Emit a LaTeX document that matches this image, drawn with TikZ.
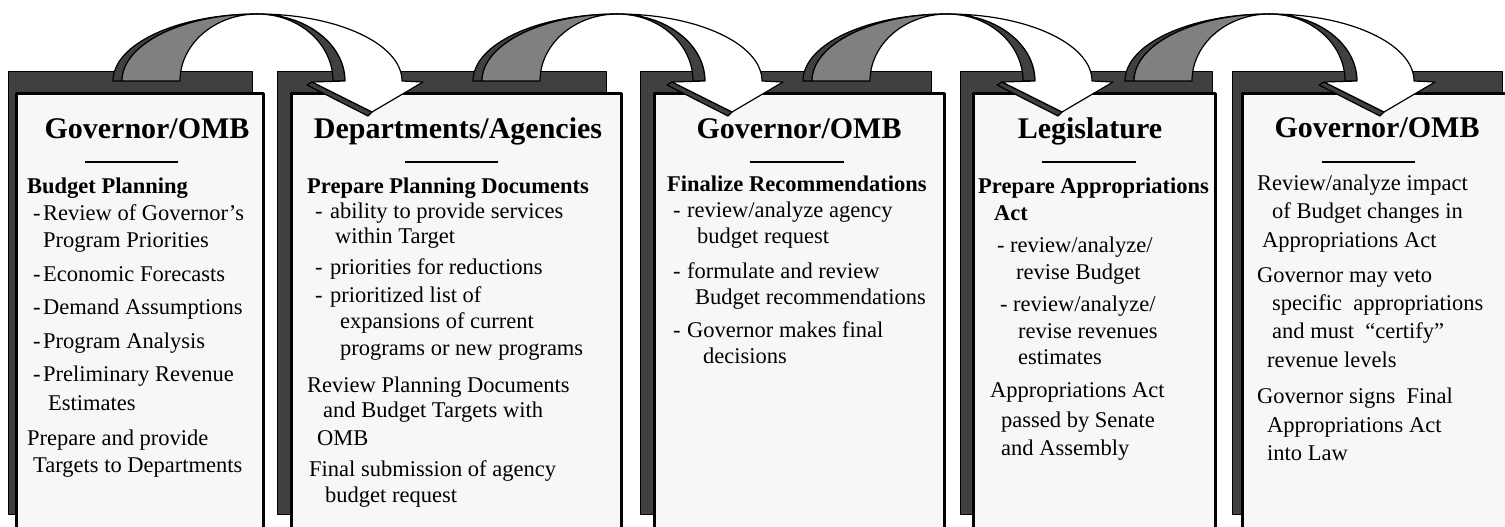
\documentclass[tikz,border=0pt]{standalone}
\usepackage{fontspec}
\setmainfont{Liberation Serif}
\definecolor{darkface}{HTML}{404040}
\definecolor{midface}{HTML}{808080}
\definecolor{paper}{HTML}{F7F7F7}
\newcommand\dsh[1][10pt]{\makebox[#1][l]{-}}
\newcommand\firstln{\rule{0pt}{20pt}}

\begin{document}
\begin{tikzpicture}[x=1pt,y=-1pt,line join=round,
  backbox/.style={draw=black,line width=1pt,fill=darkface},
  frontbox/.style={draw=black,line width=3pt,fill=paper},
  darkpart/.style={draw=black,line width=1.2pt,fill=darkface},
  greypart/.style={draw=black,line width=1.2pt,fill=midface},
  whitepart/.style={draw=black,line width=1.2pt,fill=white},
  title/.style={anchor=base,inner sep=0pt,font=\fontsize{30}{30}\selectfont\bfseries},
  subhead/.style={anchor=north west,inner sep=0pt,align=left,font=\fontsize{22.5}{27}\selectfont\bfseries},
  bodytext/.style={anchor=north west,inner sep=0pt,align=left,font=\fontsize{22.5}{27}\selectfont}]
\useasboundingbox (0,0) rectangle (1505,527);

% panels: back box and front sheet
\foreach \dl/\dr/\fl/\fr in {8/252/15/265,277/606/290/623,640/931/653/946,960/1212/972/1217,1232/1502/1241/1515}{
  \draw[backbox] (\dl,72) rectangle (\dr,514);
  \draw[frontbox] (\fl+1.5,93.5) rectangle (\fr-1.5,545);
}

% curved arrows between panels
\foreach \xa in {113,473,803,1125}{
\begin{scope}[shift={(\xa,0)}]
  \draw[darkpart] (0,81) arc[start angle=180,end angle=90,x radius=144.5pt,y radius=67pt]
    arc[start angle=90,end angle=180,x radius=135.5pt,y radius=67pt] -- cycle;
  \draw[greypart] (9,81) arc[start angle=180,end angle=90,x radius=135.5pt,y radius=67pt]
    arc[start angle=90,end angle=180,x radius=77.5pt,y radius=67pt] -- cycle;
  \draw[darkpart] (144.5,14) arc[start angle=90,end angle=0,x radius=87.5pt,y radius=67pt]
    -- (220,81) arc[start angle=0,end angle=90,x radius=75.5pt,y radius=67pt] -- cycle;
  \draw[darkpart] (199,82) -- (194,85) -- (255,116) -- (259,112) -- cycle;
  \draw[whitepart] (144.5,14) arc[start angle=90,end angle=0,x radius=144.5pt,y radius=67pt]
    -- (310,82) -- (259,112) -- (199,82) -- (232,81)
    arc[start angle=0,end angle=90,x radius=87.5pt,y radius=67pt] -- cycle;
\end{scope}
}

% titles and rules
\node[title] (t1) at (147,138) {Governor/OMB};
\node[title] (t2) at (458,138) {Departments/Agencies};
\node[title] (t3) at (799,138) {Governor/OMB};
\node[title] (t4) at (1090,138) {Legislature};
\node[title] (t5) at (1377,137) {Governor/OMB};
\draw[line width=2pt] (85,162) -- (178,162) (405,162) -- (498,162) (750,162) -- (844,162)
  (1042,162) -- (1136,162) (1322,162) -- (1415,162);

% sub headings
\node[subhead] (s1) at (27,173) {\firstln Budget Planning};
\node[subhead] (s2) at (307,173) {\firstln Prepare Planning Documents};
\node[subhead] (s3) at (667,171) {\firstln Finalize Recommendations};
\node[subhead] (s4) at (978,173) {\firstln Prepare Appropriations\\ \hspace*{16pt}Act};

% panel texts
\node[bodytext] (b1) at (27,200) {\firstln\hspace*{6pt}\dsh Review of Governor’s\\
  \hspace*{16pt}Program Priorities\\[7pt]
  \hspace*{6pt}\dsh Economic Forecasts\\[6pt]
  \hspace*{6pt}\dsh Demand Assumptions\\[7pt]
  \hspace*{6pt}\dsh Program Analysis\\[6pt]
  \hspace*{6pt}\dsh Preliminary Revenue\\[2pt]
  \hspace*{21pt}Estimates\\[8pt]
  Prepare and provide\\
  \hspace*{6pt}Targets to Departments};
\node[bodytext] (b2) at (307,198) {\firstln\hspace*{8pt}\dsh[15pt]ability to provide services\\[-2pt]
  \hspace*{28pt}within Target\\[4pt]
  \hspace*{8pt}\dsh[15pt]priorities for reductions\\[1pt]
  \hspace*{8pt}\dsh[15pt]prioritized list of\\[-1pt]
  \hspace*{33pt}expansions of current\\
  \hspace*{33pt}programs or new programs\\[10pt]
  Review Planning Documents\\[-2pt]
  \hspace*{16pt}and Budget Targets with\\[1pt]
  \hspace*{10pt}OMB\\[4pt]
  \hspace*{2pt}Final submission of agency\\[-1pt]
  \hspace*{18pt}budget request};
\node[bodytext] (b3) at (673,197) {\firstln\dsh[14pt]review/analyze agency\\[-1pt]
  \hspace*{24pt}budget request\\[8pt]
  \dsh[14pt]formulate and review\\[-1pt]
  \hspace*{22pt}Budget recommendations\\[6pt]
  \dsh[14pt]Governor makes final\\[-1pt]
  \hspace*{30pt}decisions};
\node[bodytext] (b4) at (990,232) {\firstln\hspace*{7pt}\dsh[13pt]review/analyze/\\
  \hspace*{26pt}revise Budget\\[5pt]
  \hspace*{10pt}\dsh[13pt]review/analyze/\\
  \hspace*{28pt}revise revenues\\[-1pt]
  \hspace*{28pt}estimates\\[6pt]
  Appropriations Act\\[3pt]
  \hspace*{11pt}passed by Senate\\[1pt]
  \hspace*{11pt}and Assembly};
\node[bodytext] (b5) at (1257,170) {\firstln Review/analyze impact\\[1pt]
  \hspace*{15pt}of Budget changes in\\[2pt]
  \hspace*{5pt}Appropriations Act\\[8pt]
  Governor may veto\\[1pt]
  \hspace*{15pt}specific\ \ appropriations\\[1pt]
  \hspace*{15pt}and must\ \ “certify”\\[2pt]
  \hspace*{10pt}revenue levels\\[9pt]
  Governor signs\ \ Final\\[2pt]
  \hspace*{10pt}Appropriations Act\\[1pt]
  \hspace*{10pt}into Law};
\end{tikzpicture}
\end{document}
